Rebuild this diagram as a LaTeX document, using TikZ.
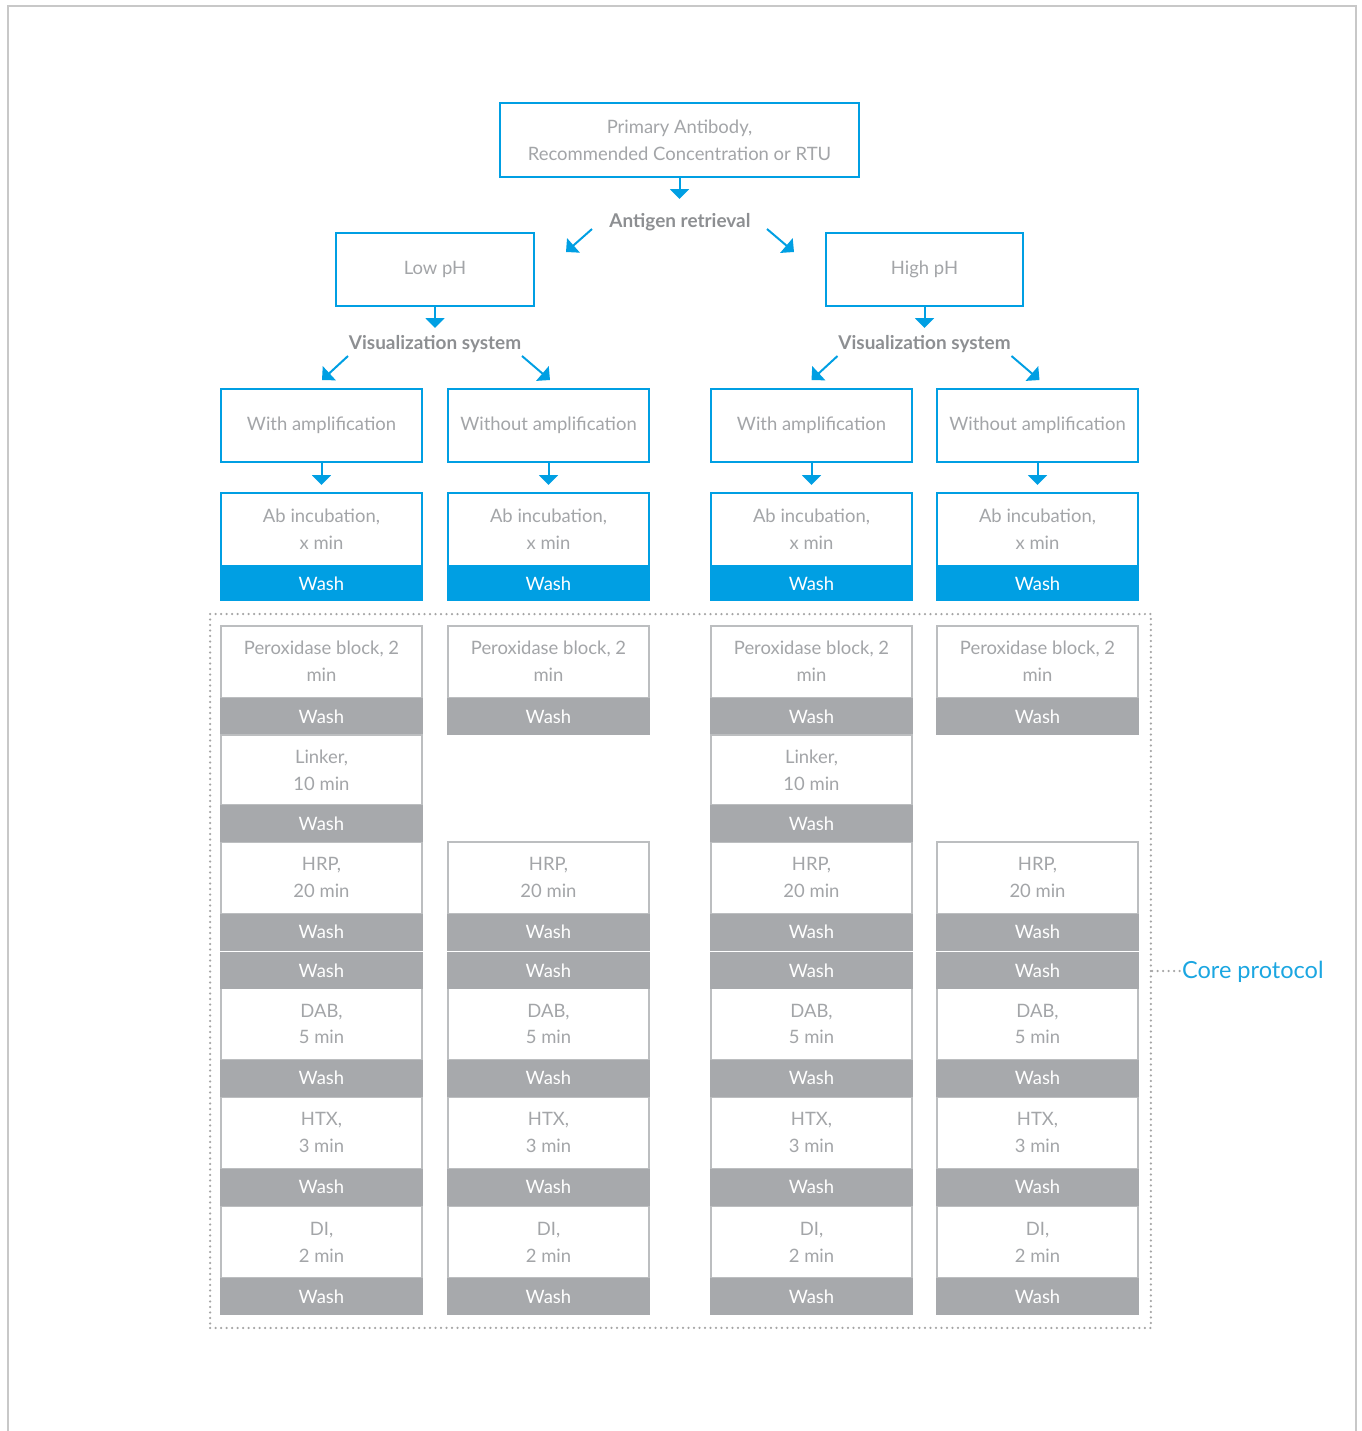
\documentclass[tikz,border=0pt]{standalone}
\usepackage{fontspec}
\setmainfont{Lato}
\usetikzlibrary{arrows.meta}
\definecolor{biru}{HTML}{009FE3}
\definecolor{birumuda}{HTML}{1BA6E1}
\definecolor{abu}{HTML}{A7A9AC}
\definecolor{garis}{HTML}{BCBEC0}
\definecolor{teks}{HTML}{A3A5A8}
\definecolor{judul}{HTML}{8D8F92}
\definecolor{bingkai}{HTML}{C8C8C8}
\definecolor{titik}{HTML}{A5A5A5}
\tikzset{
  kotakbiru/.style={draw=biru, line width=0.04cm, fill=white, text=teks, align=center,
    inner sep=0pt, minimum width=4.04cm, minimum height=1.46cm,
    font=\fontsize{10.5}{15.3}\selectfont},
  kotakabu/.style={kotakbiru, draw=garis, minimum height=1.44cm},
  cuci/.style={fill=abu, text=white, inner sep=0pt, minimum width=4.08cm,
    minimum height=0.74cm, font=\fontsize{10.5}{12}\selectfont},
  judulteks/.style={text=judul, font=\bfseries\fontsize{10.8}{12}\selectfont},
  panah/.style={biru, line width=0.04cm, -{Triangle[width=0.38cm,length=0.2cm]}},
  bertitik/.style={draw=titik, line width=0.05cm, line cap=round, dash pattern=on 0pt off 0.11cm},
}
\begin{document}
\begin{tikzpicture}[x=0.02cm, y=-0.02cm]
    \useasboundingbox (0,0) rectangle (1362,1431);
    % Bingkai
    \draw[bingkai, line width=0.04cm] (8,1431) -- (8,6) -- (1356,6) -- (1356,1431);
    % Antibodi primer
    \node[kotakbiru, minimum width=7.18cm, minimum height=1.48cm] (primer) at (679.5,140)
        {Primary Antibody,\\Recommended Concentration or RTU};
    \coordinate (primer-ujung) at (679.5,199);
    \draw[panah] (primer) -- (primer-ujung);
    \node[judulteks] (antigen) at (680,222) {Antigen retrieval};
    \coordinate (ag-l1) at (592,229);
    \coordinate (ag-l2) at (566,252);
    \coordinate (ag-r1) at (767,229);
    \coordinate (ag-r2) at (794,252);
    \draw[panah] (ag-l1) -- (ag-l2);
    \draw[panah] (ag-r1) -- (ag-r2);
    % pH rendah dan tinggi
    \foreach \nama/\teks/\cx in {low/Low pH/435, high/High pH/924.5} {
        \node[kotakbiru, minimum width=3.96cm] (\nama) at (\cx,269.5) {\teks};
        \coordinate (\nama-ujung) at (\cx,328);
        \draw[panah] (\nama) -- (\nama-ujung);
        \node[judulteks] (vis-\nama) at (\cx,344) {Visualization system};
        \coordinate (\nama-l1) at (\cx-87,356);
        \coordinate (\nama-l2) at (\cx-113,380);
        \coordinate (\nama-r1) at (\cx+87,356);
        \coordinate (\nama-r2) at (\cx+115,380);
        \draw[panah] (\nama-l1) -- (\nama-l2);
        \draw[panah] (\nama-r1) -- (\nama-r2);
    }
    % Kolom sistem visualisasi
    \foreach \i/\cx/\judul in {1/321.5/With amplification, 2/548.5/Without amplification,
                               3/811.5/With amplification, 4/1037.5/Without amplification} {
        \node[kotakbiru] (amp-\i) at (\cx,425.5) {\judul};
        \coordinate (amp-ujung-\i) at (\cx,485);
        \draw[panah] (amp-\i) -- (amp-ujung-\i);
        \node[kotakbiru] (ab-\i) at (\cx,529.5) {Ab incubation,\\x min};
        \node[cuci, fill=biru, minimum height=0.7cm] (abcuci-\i) at (\cx,583.5) {Wash};
        % Langkah inti
        \foreach \nm/\teks/\cy in {perox/{Peroxidase block, 2\\min}/661.5,
                                   hrp/{HRP,\\20 min}/877.5, dab/{DAB,\\5 min}/1024,
                                   htx/{HTX,\\3 min}/1132.5, di/{DI,\\2 min}/1242} {
            \node[kotakabu] (\nm-\i) at (\cx,\cy) {\teks};
        }
        \foreach \j/\cy in {1/716.5, 3/932, 4/970.5, 5/1078, 6/1187, 7/1296.5} {
            \node[cuci] (cuci-\i-\j) at (\cx,\cy) {Wash};
        }
    }
    % Linker hanya dengan amplifikasi
    \foreach \i/\cx in {1/321.5, 3/811.5} {
        \node[kotakabu, minimum height=1.4cm] (linker-\i) at (\cx,770) {Linker,\\10 min};
        \node[cuci] (cuci-\i-2) at (\cx,823.5) {Wash};
    }
    % Protokol inti
    \node[bertitik, minimum width=18.82cm, minimum height=14.28cm] (inti) at (680.5,971) {};
    \node[text=birumuda, anchor=west, inner sep=1pt, font=\fontsize{13.4}{16}\selectfont]
        (inti-label) at (1180,972) {Core protocol};
    \draw[bertitik] (inti.east) -- (inti-label.west |- inti.east);
\end{tikzpicture}
\end{document}
